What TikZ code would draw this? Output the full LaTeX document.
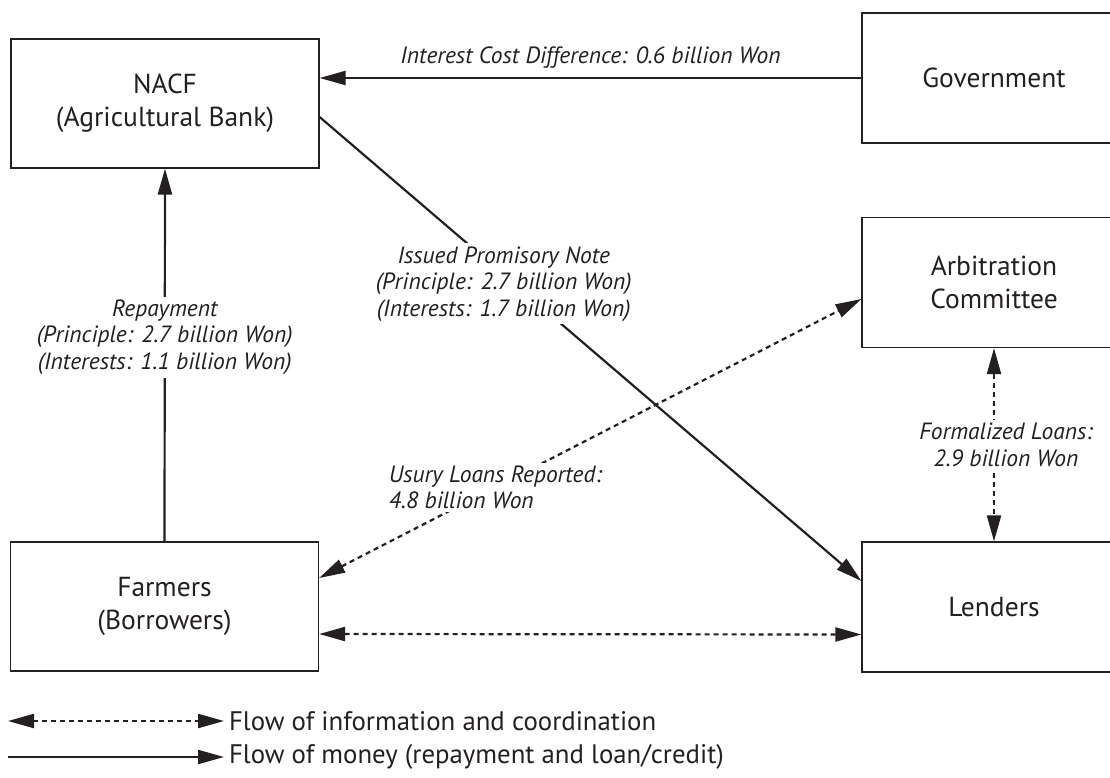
\documentclass[tikz,border=0pt]{standalone}
\usepackage{fontspec}
\setmainfont{PT Sans}
\usetikzlibrary{arrows.meta}
\definecolor{ink}{rgb}{0.14,0.12,0.13}

\begin{document}
\begin{tikzpicture}
      [x = 1pt, y = -1pt,
      box/.style = {
         draw = ink,
         line width = 1.2pt,
         minimum width = 308pt,
         minimum height = 129pt,
         inner sep = 0pt,
         align = center,
         text = ink,
         font = \fontsize{27.5}{33}\selectfont
      },
      rbox/.style = {box, minimum width = 264pt, minimum height = 130pt},
      money/.style = {
         draw = ink,
         line width = 2.2pt,
         -{Triangle[length = 26pt, width = 14pt]}
      },
      info/.style = {
         money,
         {Triangle[length = 26pt, width = 14pt]}-{Triangle[length = 26pt, width = 14pt]},
         dash pattern = on 5pt off 4pt
      },
      lbl/.style = {
         fill = white,
         inner sep = 3pt,
         align = center,
         text = ink,
         font = \fontsize{23.5}{26.5}\selectfont\itshape
      },
      legend/.style = {
         right,
         inner sep = 4pt,
         text = ink,
         font = \fontsize{26.8}{30}\selectfont
      }]
      \useasboundingbox (0, 0) rectangle (1110, 778);
      \clip (0, 0) rectangle (1110, 778);

      % actors
      \node[box] (NACF) at (165, 103.5) {NACF\\(Agricultural Bank)};
      \node[box] (Farmers) at (164.5, 606.5) {Farmers\\(Borrowers)};
      \node[rbox] (Gov) at (994, 78) {Government};
      \node[rbox] (Arb) at (994, 282.5) {Arbitration\\Committee};
      \node[rbox] (Lenders) at (994, 607) {Lenders};

      % money
      \draw[money] (Gov.west) -- (NACF.east |- Gov.west)
         node[lbl, midway, above = 6pt, fill = none] {Interest Cost Difference: 0.6 billion Won};
      \draw[money] (Farmers.north) -- (NACF.south)
         node[lbl, pos = 0.548] {Repayment\\(Principle: 2.7 billion Won)\\(Interests: 1.1 billion Won)};
      \draw[money] ([yshift = -13.5pt]NACF.east) -- ([yshift = 26pt]Lenders.west)
         node[lbl, pos = 0.34, yshift = -9pt] {Issued Promisory Note\\(Principle: 2.7 billion Won)\\(Interests: 1.7 billion Won)};

      % information
      \draw[info] ([yshift = 28.5pt]Farmers.east) -- ([yshift = -16.5pt]Arb.west)
         node[lbl, pos = 0.325, align = left] {Usury Loans Reported:\\4.8 billion Won};
      \draw[info] (Arb.south) -- (Lenders.north)
         node[lbl, midway, xshift = 12pt] {Formalized Loans:\\2.9 billion Won};
      \draw[info] ([yshift = -27.5pt]Farmers.east) -- ([yshift = -27.5pt]Lenders.west);

      % legend
      \coordinate (inf1) at (8, 721);
      \coordinate (inf2) at (224, 721);
      \coordinate (mon1) at (8, 757);
      \coordinate (mon2) at (224, 757);
      \draw[info] (inf1) -- (inf2) node[legend] {Flow of information and coordination};
      \draw[money] (mon1) -- (mon2) node[legend] {Flow of money (repayment and loan/credit)};
\end{tikzpicture}
\end{document}
